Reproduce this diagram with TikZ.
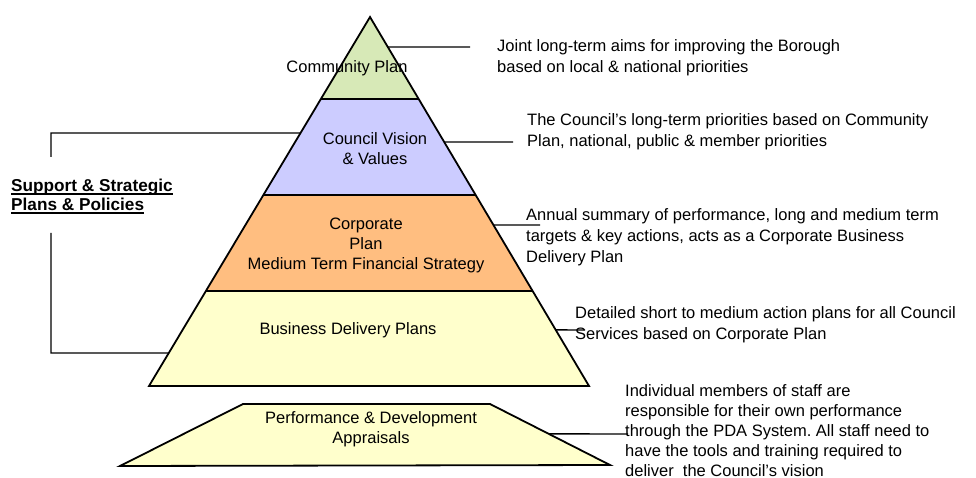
\documentclass[tikz,border=0pt]{standalone}
\usepackage{fontspec}
\setmainfont{Liberation Sans}
\usetikzlibrary{calc}
\definecolor{tiergreen}{RGB}{215,233,183}
\definecolor{tierviolet}{RGB}{204,204,255}
\definecolor{tierorange}{RGB}{255,190,128}
\definecolor{tieryellow}{RGB}{255,255,204}
% text with a heavy underline
\newcommand{\thickul}[1]{\setbox0\hbox{#1}\rlap{\rule[-3.2pt]{\wd0}{1.6pt}}\box0}
\frenchspacing
\begin{document}
\begin{tikzpicture}[x=1pt,y=-1pt,
  tier/.style={draw=black, line width=1.8pt, line join=miter},
  lead/.style={draw=black, line width=1.4pt},
  tierlabel/.style={align=center, inner sep=0pt, font=\fontsize{16.5}{20}\selectfont},
  note/.style={align=left, anchor=west, inner sep=0pt, font=\fontsize{16.5}{21}\selectfont},
  heading/.style={align=left, anchor=west, inner sep=0pt, font=\fontsize{17.2}{19}\selectfont\bfseries},
]
\useasboundingbox (0,0) rectangle (976,478);

% pyramid outline
\coordinate (apex) at (370,17);
\coordinate (bl) at (149,386);
\coordinate (br) at (589,386);
\coordinate (l1) at ($(apex)!0.2222!(bl)$);
\coordinate (r1) at ($(apex)!0.2222!(br)$);
\coordinate (l2) at ($(apex)!0.4824!(bl)$);
\coordinate (r2) at ($(apex)!0.4824!(br)$);
\coordinate (l3) at ($(apex)!0.7425!(bl)$);
\coordinate (r3) at ($(apex)!0.7425!(br)$);

% tiers, top to bottom
\fill[tiergreen] (apex) -- (r1) -- (l1) -- cycle;
\fill[tierviolet] (l1) -- (r1) -- (r2) -- (l2) -- cycle;
\fill[tierorange] (l2) -- (r2) -- (r3) -- (l3) -- cycle;
\fill[tieryellow] (l3) -- (r3) -- (br) -- (bl) -- cycle;
\draw[tier] (apex) -- (br) -- (bl) -- cycle;
\draw[tier] (l1) -- (r1);
\draw[tier] (l2) -- (r2);
\draw[tier] (l3) -- (r3);

% separate base tier
\coordinate (ptl) at (243,404);
\coordinate (ptr) at (490,404);
\coordinate (pbr) at (610,465);
\coordinate (pbl) at (120,466);
\filldraw[tier, fill=tieryellow] (ptl) -- (ptr) -- (pbr) -- (pbl) -- cycle;

% tier labels
\node[tierlabel] (community) at (347,68) {Community Plan};
\node[tierlabel] (vision) at (375,149) {Council Vision\\\& Values};
\node[tierlabel] (corporate) at (366,245) {Corporate\\Plan\\Medium Term Financial Strategy};
\node[tierlabel] (business) at (348,330) {Business Delivery Plans};
\node[tierlabel] (pda) at (371,429) {Performance \& Development\\Appraisals};

% descriptions
\node[note] (d1) at (497,58) {Joint long-term aims for improving the Borough\\based on local \& national priorities};
\node[note] (d2) at (527,131.5) {The Council’s long-term priorities based on Community\\Plan, national, public \& member priorities};
\node[note] (d3) at (526,237.5) {Annual summary of performance, long and medium term\\targets \& key actions, acts as a Corporate Business\\Delivery Plan};
\node[note] (d4) at (575,325) {Detailed short to medium action plans for all Council\\Services based on Corporate Plan};
\node[note, font=\fontsize{16.5}{19.8}\selectfont] (d5) at (625,430.5) {Individual members of staff are\\responsible for their own performance\\through the PDA System. All staff need to\\have the tools and training required to\\deliver~ the Council’s vision};

% leader lines
\coordinate (e1) at ($(apex)!0.0813!(br)$);
\coordinate (f1) at (470,47);
\coordinate (e2) at ($(apex)!0.3388!(br)$);
\coordinate (f2) at (513,142);
\coordinate (e3) at ($(apex)!0.5637!(br)$);
\coordinate (f3) at (540,225);
\coordinate (e4) at ($(apex)!0.848!(br)$);
\coordinate (f4) at (585,330);
\coordinate (e5) at ($(ptr)!0.49!(pbr)$);
\coordinate (f5) at (628,434);
\draw[lead] (e1) -- (f1);
\draw[lead] (e2) -- (f2);
\draw[lead] (e3) -- (f3);
\draw[lead] (e4) -- (f4);
\draw[lead] (e5) -- (f5);

% bracket for support plans
\node[heading] (support) at (11,196.5) {\thickul{Support \& Strategic}\\\thickul{Plans \& Policies}};
\coordinate (bt) at ($(apex)!0.3144!(bl)$);
\coordinate (bb) at ($(apex)!0.9106!(bl)$);
\coordinate (btc) at (51,133);
\coordinate (bte) at (51,157);
\coordinate (bbs) at (51,233);
\coordinate (bbc) at (51,353);
\draw[lead] (bte) -- (btc) -- (bt);
\draw[lead] (bbs) -- (bbc) -- (bb);
\end{tikzpicture}
\end{document}
